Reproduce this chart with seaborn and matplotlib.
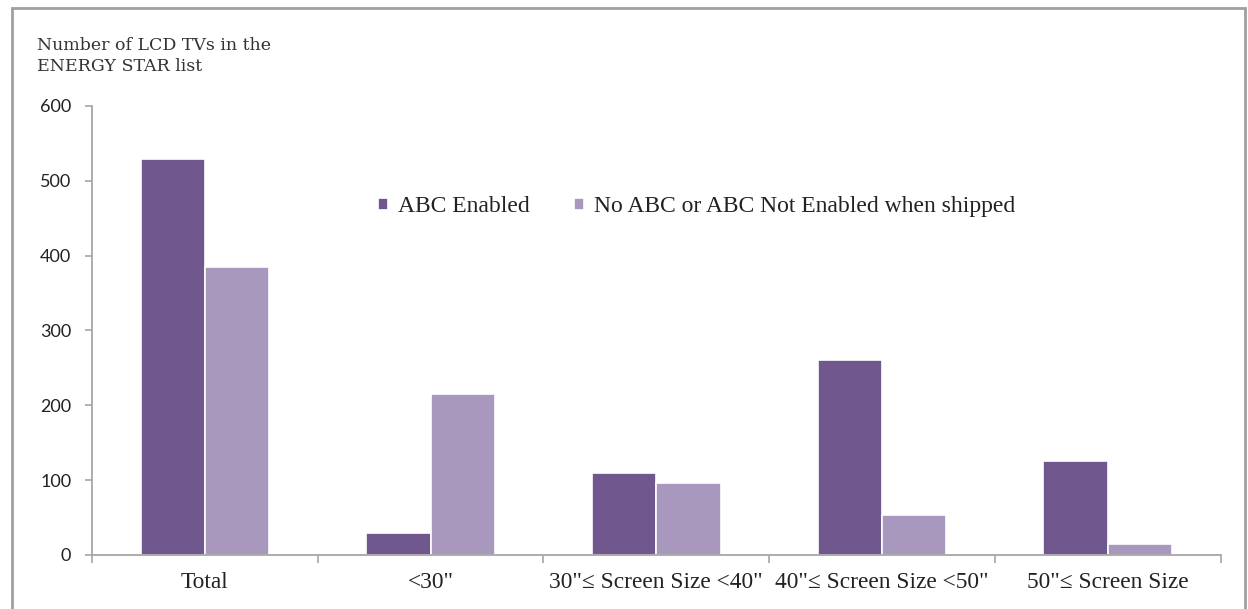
import matplotlib
matplotlib.use('Agg')
import matplotlib.pyplot as plt
import pandas as pd
import seaborn as sns
from matplotlib.patches import Rectangle

categories = ['Total', '<30"', '30"\u2264 Screen Size <40"', '40"\u2264 Screen Size <50"', '50"\u2264 Screen Size']
abc_enabled = [529, 30, 109, 260, 125]
abc_not_enabled = [385, 215, 96, 54, 15]
series = ['ABC Enabled', 'No ABC or ABC Not Enabled when shipped']
colors = ['#70588E', '#A898BE']

df = pd.DataFrame({
    'category': categories * 2,
    'series': [series[0]] * len(categories) + [series[1]] * len(categories),
    'count': abc_enabled + abc_not_enabled,
})

sns.set_style('white')
serif = ['Liberation Serif', 'DejaVu Serif']

fig = plt.figure(figsize=(12.48, 6.09), dpi=100)
ax = fig.add_axes([0.0737, 0.0887, 0.9043, 0.7373])

sns.barplot(data=df, x='category', y='count', hue='series', order=categories,
            hue_order=series, palette=colors, width=0.57, saturation=1,
            edgecolor='white', linewidth=1.2, ax=ax)

ax.set_xlim(-0.5, 4.5)
ax.set_ylim(0, 600)
ax.set_yticks([0, 100, 200, 300, 400, 500, 600])
ax.set_xlabel('')
ax.set_ylabel('')

for s in ['top', 'right']:
    ax.spines[s].set_visible(False)
for s in ['left', 'bottom']:
    ax.spines[s].set_color('#A6A6A6')
    ax.spines[s].set_linewidth(1.3)

ax.tick_params(axis='y', direction='out', length=5, color='#A6A6A6', width=1.2,
               labelsize=13, pad=10, left=True)
for lab in ax.get_yticklabels():
    lab.set_family(['Lato', 'DejaVu Sans'])
    lab.set_color('#222222')

ax.set_xticks([-0.5, 0.5, 1.5, 2.5, 3.5, 4.5], minor=True)
ax.tick_params(axis='x', which='minor', direction='out', length=6, color='#A6A6A6', width=1.2, bottom=True)
ax.tick_params(axis='x', which='major', length=0, pad=12, labelsize=16.8)
for lab in ax.get_xticklabels():
    lab.set_family(serif)
    lab.set_color('#222222')

leg = ax.legend(loc='upper left', bbox_to_anchor=(0.235, 0.846), ncol=2, frameon=False,
                handlelength=0.42, handleheight=0.42, handletextpad=0.4, columnspacing=1.9,
                prop={'family': serif, 'size': 17})
for t in leg.get_texts():
    t.set_color('#222222')

fig.text(37 / 1248, 1 - 56 / 609, 'Number of LCD TVs in the\nENERGY STAR list', family=['DejaVu Serif'],
         fontsize=12.5, color='#333333', va='center', ha='left', linespacing=1.3)

fig.patches.append(Rectangle((12 / 1248, -0.1), (1245 - 12) / 1248, 1.1 - 8 / 609,
                             transform=fig.transFigure, fill=False,
                             edgecolor='#A0A0A0', linewidth=2))

fig.savefig('out.png', dpi=100)
